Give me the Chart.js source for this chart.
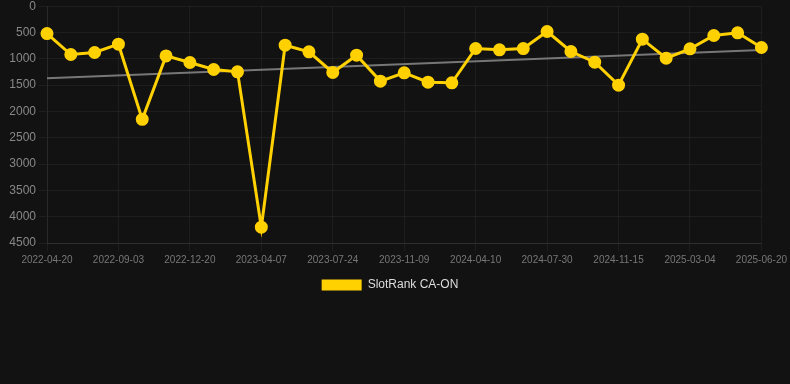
<!DOCTYPE html>
<html lang="en">
<head>
<meta charset="UTF-8">
<title>SlotRank CA-ON</title>
<script src="https://cdn.jsdelivr.net/npm/chart.js"></script>
<style>
  html, body { margin: 0; padding: 0; background: #121212; overflow: hidden; }
  #wrap { position: relative; width: 790px; height: 305px; margin-top: -4px; }
</style>
</head>
<body>
<div id="wrap"><canvas id="rankChart"></canvas></div>
<script>
// category dates (every 3rd one shows on the axis)
const dates = [
  '2022-04-20', '2022-06-05', '2022-07-20', '2022-09-03', '2022-10-10', '2022-11-15',
  '2022-12-20', '2023-01-25', '2023-03-02', '2023-04-07', '2023-05-13', '2023-06-18',
  '2023-07-24', '2023-08-29', '2023-10-04', '2023-11-09', '2023-12-30', '2024-02-19',
  '2024-04-10', '2024-05-17', '2024-06-23', '2024-07-30', '2024-09-04', '2024-10-10',
  '2024-11-15', '2024-12-21', '2025-01-27', '2025-03-04', '2025-04-09', '2025-05-15',
  '2025-06-20'
];
const ranks = [
  520, 918, 880, 722, 2150, 944, 1070, 1203, 1247, 4200, 741,
  867, 1260, 931, 1424, 1266, 1443, 1456, 804, 829, 805,
  481, 861, 1063, 1500, 627, 988, 810, 557, 506, 785
];
const trendStart = 1370;
const trendEnd = 830;
const yTicks = [0, 500, 1000, 1500, 2000, 2500, 3000, 3500, 4000, 4500];

const fontFamily = 'Arial, "Liberation Sans", Helvetica, sans-serif';

new Chart(document.getElementById('rankChart'), {
  type: 'line',
  data: {
    labels: dates,
    datasets: [
      {
        label: 'SlotRank CA-ON',
        data: ranks,
        borderColor: '#FFD100',
        backgroundColor: '#FFD100',
        borderWidth: 3,
        pointRadius: 5,
        pointHoverRadius: 5,
        pointBackgroundColor: '#FFD100',
        pointBorderColor: '#FFD100',
        tension: 0
      },
      {
        label: 'trend',
        data: [{ x: dates[0], y: trendStart }, { x: dates[dates.length - 1], y: trendEnd }],
        borderColor: '#777777',
        borderWidth: 2,
        pointRadius: 0,
        tension: 0
      }
    ]
  },
  options: {
    responsive: true,
    maintainAspectRatio: false,
    animation: false,
    layout: { padding: { right: 10 } },
    plugins: {
      legend: {
        position: 'bottom',
        labels: {
          color: '#dddddd',
          font: { family: fontFamily, size: 12 },
          boxWidth: 40,
          boxHeight: 11,
          generateLabels: chart =>
            Chart.defaults.plugins.legend.labels.generateLabels(chart)
              .filter(item => item.text !== 'trend')
              .map(item => Object.assign(item, { lineWidth: 0 }))
        }
      },
      tooltip: { enabled: false }
    },
    scales: {
      x: {
        type: 'category',
        grid: { color: 'rgba(255,255,255,0.05)' },
        border: { color: 'rgba(255,255,255,0.08)' },
        ticks: {
          color: '#777777',
          font: { family: fontFamily, size: 10 },
          maxRotation: 0,
          autoSkip: true,
          maxTicksLimit: 11
        }
      },
      y: {
        reverse: true,
        min: yTicks[0],
        max: yTicks[yTicks.length - 1],
        afterBuildTicks: axis => { axis.ticks = yTicks.map(v => ({ value: v })); },
        afterFit: axis => { axis.width = 47; },
        grid: { color: 'rgba(255,255,255,0.05)' },
        border: { color: 'rgba(255,255,255,0.05)' },
        ticks: {
          color: '#888888',
          font: { family: fontFamily, size: 12 },
          callback: v => String(v)
        }
      }
    }
  }
});
</script>
</body>
</html>
